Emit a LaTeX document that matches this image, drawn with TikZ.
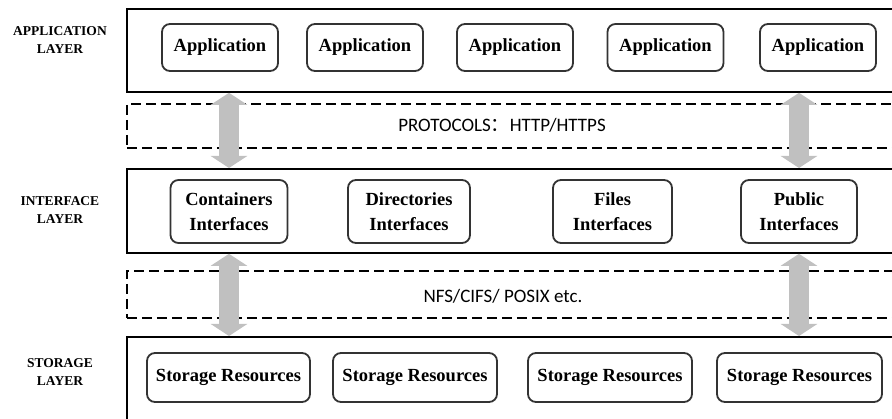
\documentclass[tikz,border=0pt]{standalone}
\usepackage{fontspec}
\setmainfont{Liberation Serif}
\newfontfamily\carl{Carlito}
\newfontfamily\cjk{Noto Sans CJK SC}
\usetikzlibrary{arrows.meta}
\definecolor{arrgray}{HTML}{C0C0C0}
\definecolor{boxgray}{HTML}{333333}
\begin{document}
\begin{tikzpicture}[x=1pt,y=-1pt,
 layerbox/.style={draw=black,line width=1.8pt,anchor=north west,inner sep=0pt,minimum width=780pt},
 protobox/.style={draw=black,line width=1.7pt,dash pattern=on 10pt off 5pt,anchor=north west,inner sep=0pt,minimum width=780pt},
 itembox/.style={draw=boxgray,line width=1.8pt,rounded corners=8pt,inner sep=0pt,font=\fontsize{18.5}{25}\selectfont\bfseries,align=center},
 layerlabel/.style={font=\fontsize{13.5}{18}\selectfont\bfseries,align=center},
 prototext/.style={font=\fontsize{19}{22}\selectfont\carl},
 dblarrow/.style={draw=arrgray,line width=20pt,{Triangle[length=12pt,width=36pt]}-{Triangle[length=12pt,width=36pt]}}
]
\useasboundingbox (0,0) rectangle (892,419);

% layer frames
\node[layerbox,minimum height=83pt] (appL) at (126,8) {};
\node[protobox,minimum height=44pt] (proto1) at (126,103) {};
\node[layerbox,minimum height=84pt] (ifL) at (126,168) {};
\node[protobox,minimum height=47pt] (proto2) at (126,270) {};
\node[layerbox,minimum height=100pt] (stL) at (126,336) {};

% layer labels
\node[layerlabel] (labApp) at (60,40) {APPLICATION\\LAYER};
\node[layerlabel] (labIf) at (60,210) {INTERFACE\\LAYER};
\node[layerlabel] (labSt) at (60,372) {STORAGE\\LAYER};

% protocol texts
\node[prototext] (p1) at (502,125) {PROTOCOLS{\cjk ：}HTTP/HTTPS};
\node[prototext] (p2) at (503,296) {NFS/CIFS/ POSIX etc.};

% application boxes
\node[itembox,minimum width=116pt,minimum height=47pt] (a1) at (220,47.5) {Application};
\node[itembox,minimum width=116pt,minimum height=47pt] (a2) at (365,47.5) {Application};
\node[itembox,minimum width=116pt,minimum height=47pt] (a3) at (515,47.5) {Application};
\node[itembox,minimum width=116pt,minimum height=47pt] (a4) at (665.5,47.5) {Application};
\node[itembox,minimum width=116pt,minimum height=47pt] (a5) at (818,47.5) {Application};

% interface boxes
\node[itembox,minimum width=117pt,minimum height=63pt] (i1) at (229,211.5) {Containers\\Interfaces};
\node[itembox,minimum width=122pt,minimum height=63pt] (i2) at (409,211.5) {Directories\\Interfaces};
\node[itembox,minimum width=119pt,minimum height=63pt] (i3) at (612.5,211.5) {Files\\Interfaces};
\node[itembox,minimum width=116pt,minimum height=63pt] (i4) at (799,211.5) {Public\\Interfaces};

% storage boxes
\node[itembox,minimum width=163pt,minimum height=49pt] (s1) at (228.5,377.5) {Storage Resources};
\node[itembox,minimum width=164pt,minimum height=49pt] (s2) at (415,377.5) {Storage Resources};
\node[itembox,minimum width=164pt,minimum height=49pt] (s3) at (610,377.5) {Storage Resources};
\node[itembox,minimum width=165pt,minimum height=49pt] (s4) at (799.5,377.5) {Storage Resources};

% double arrows
\draw[dblarrow] (appL.south -| i1) -- (ifL.north -| i1);
\draw[dblarrow] (appL.south -| i4) -- (ifL.north -| i4);
\draw[dblarrow] (ifL.south -| i1) -- (stL.north -| i1);
\draw[dblarrow] (ifL.south -| i4) -- (stL.north -| i4);
\end{tikzpicture}
\end{document}
